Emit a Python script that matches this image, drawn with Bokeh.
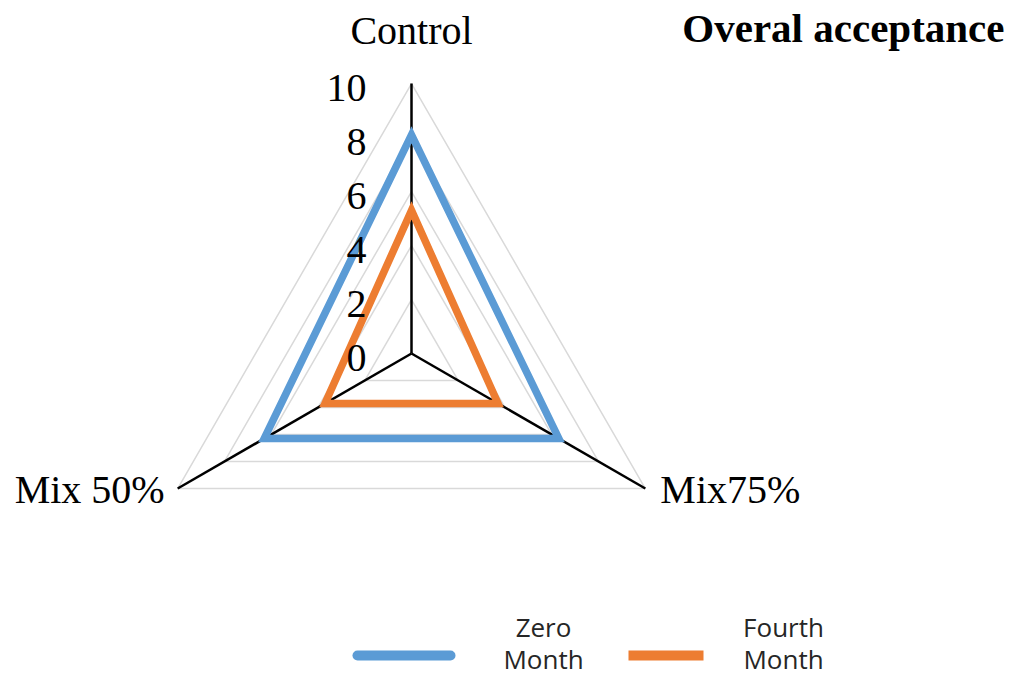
import math
from bokeh.plotting import figure
from bokeh.models import Range1d
from bokeh.core.properties import value
from bokeh.embed import file_html
from bokeh.resources import INLINE

# ---- data ----
categories = ["Control", "Mix75%", "Mix 50%"]
zero_month = [8.1, 6.3, 6.3]
fourth_month = [5.3, 3.7, 3.7]
tick_values = [0, 2, 4, 6, 8, 10]
tick_labels = ["0", "2", "4", "6", "8", "10"]
series_names = ["Zero Month", "Fourth Month"]
title_text = "Overal acceptance"

# ---- geometry ----
W, H = 1006, 681
S = 27.0            # px per unit
CX, CY = 411, 353   # centre in px
angles = [math.radians(a) for a in (90, -30, 210)]
RMAX = 10

def dx(X):
    return (X - CX) / S

def dy(Y):
    return (CY - Y) / S

p = figure(width=W, height=H, output_backend="svg", toolbar_location=None,
           x_range=Range1d(dx(0), dx(W)), y_range=Range1d(dy(H), dy(0)),
           min_border=0)
p.axis.visible = False
p.grid.visible = False
p.outline_line_color = None
p.background_fill_color = "white"
p.border_fill_color = "white"

def pts(vals):
    xs = [v * math.cos(a) for v, a in zip(vals, angles)]
    ys = [v * math.sin(a) for v, a in zip(vals, angles)]
    return xs, ys

# grid triangles
for t in tick_values[1:]:
    xs, ys = pts([t] * 3)
    p.patch(xs, ys, fill_alpha=0, line_color="#d9d9d9", line_width=1.5)

# spokes
for a in angles:
    p.line([0, RMAX * math.cos(a)], [0, RMAX * math.sin(a)], line_color="black", line_width=2.5)

# series
colors = ["#5B9BD5", "#ED7D31"]
for vals, c in zip([zero_month, fourth_month], colors):
    xs, ys = pts(vals)
    p.patch(xs, ys, fill_alpha=0, line_color=c, line_width=7.5, line_join="miter")

serif = value("Liberation Serif")
FS = value("40px")

# tick labels
p.text(x=[0] * len(tick_values), y=[t - 4 / S for t in tick_values], text=tick_labels,
       x_offset=-45, text_align="right", text_baseline="middle",
       text_font=serif, text_font_size=FS, text_color="black")

# category labels
p.text(x=[0], y=[dy(30)], text=[categories[0]], text_align="center", text_baseline="middle",
       text_font=serif, text_font_size=FS, text_color="black")
tipx, tipy = RMAX * math.cos(angles[1]), RMAX * math.sin(angles[1])
p.text(x=[tipx], y=[tipy], text=[categories[1]], x_offset=15, y_offset=1, text_align="left",
       text_baseline="middle", text_font=serif, text_font_size=FS, text_color="black")
tipx, tipy = RMAX * math.cos(angles[2]), RMAX * math.sin(angles[2])
p.text(x=[tipx], y=[tipy], text=[categories[2]], x_offset=-13, y_offset=1, text_align="right",
       text_baseline="middle", text_font=serif, text_font_size=FS, text_color="black")

# title
p.text(x=[dx(1004)], y=[dy(27)], text=[title_text], text_align="right", text_baseline="middle",
       text_font=serif, text_font_size=value("41px"), text_font_style="bold", text_color="black")

# legend
p.line([dx(357), dx(450)], [dy(655), dy(655)], line_color=colors[0], line_width=10, line_cap="round")
p.line([dx(628), dx(703)], [dy(655), dy(655)], line_color=colors[1], line_width=10)
sans = value("Open Sans")
for name, cxp in zip(series_names, [543, 783]):
    w1, w2 = name.split(" ")
    p.text(x=[dx(cxp), dx(cxp)], y=[dy(626), dy(658)], text=[w1, w2], text_align="center",
           text_baseline="middle", text_font=sans, text_font_size=value("26px"), text_color="#262626")

open("out.html", "w").write(file_html(p, INLINE))
